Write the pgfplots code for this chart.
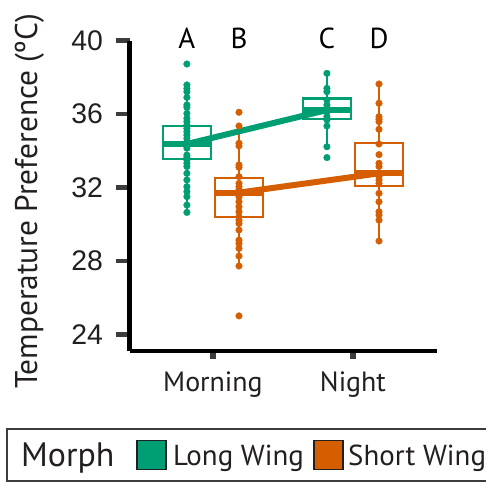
\documentclass[border=0pt]{standalone}
\usepackage{pgfplots}
\usepackage{pgfplotstable}
\pgfplotsset{compat=1.18}
\usepackage{fontspec}
\setmainfont{PT Sans}
\newfontfamily\numfont{Liberation Sans}
\definecolor{lw}{HTML}{009E73}
\definecolor{sw}{HTML}{D55E00}
\definecolor{txt}{HTML}{231F20}
\definecolor{tk}{HTML}{3C3C3C}

\pgfplotstableread{
y
38.73
37.59
37.40
37.22
36.91
36.50
36.37
36.04
35.77
35.59
35.40
35.22
35.04
34.86
34.68
34.50
34.32
34.14
33.77
33.65
33.50
33.32
33.14
32.77
32.41
32.04
31.77
31.50
31.04
30.64
}\ptsA
\pgfplotstableread{
y
36.10
35.35
34.41
34.26
33.23
33.10
32.59
32.22
32.04
31.86
31.68
31.50
31.22
30.95
30.68
30.41
30.22
30.04
29.68
29.13
28.95
28.68
28.26
27.72
25.00
}\ptsB
\pgfplotstableread{
y
38.22
37.40
37.22
36.77
36.50
36.32
36.13
35.86
35.68
35.35
34.22
33.63
}\ptsC
\pgfplotstableread{
y
37.64
36.59
35.86
35.72
35.59
35.17
34.37
33.79
33.32
33.14
32.77
32.59
32.41
32.22
31.68
31.22
30.68
30.50
30.22
29.08
}\ptsD

\begin{document}
\begin{tikzpicture}
\path[use as bounding box] (0,0) rectangle (486bp,482bp);
\begin{axis}[
  at={(129.5bp,130.5bp)}, anchor=south west,
  scale only axis, width=307.2bp, height=310.8bp,
  xmin=0.404, xmax=2.598, ymin=23.06, ymax=40,
  clip=false,
  axis x line*=bottom, axis y line*=left,
  axis line style={-, line width=4bp, black},
  xtick={1,2}, xticklabels={Morning, Night},
  ytick={24,28,32,36,40},
  tick align=outside,
  major tick length=13bp,
  ytick style={line width=4.5bp, tk},
  xtick style={line width=6bp, tk, /pgfplots/major tick length=7bp},
  /pgf/number format/assume math mode=true,
  yticklabel style={font=\numfont\fontsize{28.5}{28.5}\selectfont, text=txt, xshift=-10bp},
  xticklabel style={font=\fontsize{28}{28}\selectfont, text=txt, yshift=-4bp},
  ylabel={Temperature Preference (ºC)},
  ylabel style={at={(axis description cs:-0.301,0.483)}, anchor=base, font=\fontsize{31.5}{31.5}\selectfont, text=txt},
]
% boxes (outline)
\addplot[lw, line width=2.4bp] coordinates {(0.6425,33.54) (0.9855,33.54) (0.9855,35.35) (0.6425,35.35) (0.6425,33.54)} -- cycle;
\addplot[sw, line width=2.4bp] coordinates {(1.0145,30.38) (1.3575,30.38) (1.3575,32.52) (1.0145,32.52) (1.0145,30.38)} -- cycle;
\addplot[lw, line width=2.4bp] coordinates {(1.6425,35.72) (1.9855,35.72) (1.9855,36.86) (1.6425,36.86) (1.6425,35.72)} -- cycle;
\addplot[sw, line width=2.4bp] coordinates {(2.0145,32.08) (2.3575,32.08) (2.3575,34.41) (2.0145,34.41) (2.0145,32.08)} -- cycle;
% medians
\addplot[lw, line width=6bp] coordinates {(0.6425,34.37) (0.9855,34.37)};
\addplot[sw, line width=6bp] coordinates {(1.0145,31.72) (1.3575,31.72)};
\addplot[lw, line width=6bp] coordinates {(1.6425,36.22) (1.9855,36.22)};
\addplot[sw, line width=6bp] coordinates {(2.0145,32.77) (2.3575,32.77)};
% whiskers
\addplot[lw, line width=2.6bp] coordinates {(0.814,35.35) (0.814,37.59)};
\addplot[lw, line width=2.6bp] coordinates {(0.814,33.54) (0.814,30.64)};
\addplot[sw, line width=2.6bp] coordinates {(1.186,32.52) (1.186,35.35)};
\addplot[sw, line width=2.6bp] coordinates {(1.186,30.38) (1.186,27.72)};
\addplot[lw, line width=2.6bp] coordinates {(1.814,36.86) (1.814,38.22)};
\addplot[lw, line width=2.6bp] coordinates {(1.814,35.72) (1.814,34.22)};
\addplot[sw, line width=2.6bp] coordinates {(2.186,34.41) (2.186,37.64)};
\addplot[sw, line width=2.6bp] coordinates {(2.186,32.08) (2.186,29.08)};
% connecting lines
\addplot[lw, line width=6bp] coordinates {(0.814,34.37) (1.814,36.22)};
\addplot[sw, line width=6bp] coordinates {(1.186,31.72) (2.186,32.77)};
% points
\addplot[only marks, mark=*, mark size=3.3bp, lw] table[x expr=0.814, y=y] {\ptsA};
\addplot[only marks, mark=*, mark size=3.3bp, sw] table[x expr=1.186, y=y] {\ptsB};
\addplot[only marks, mark=*, mark size=3.3bp, lw] table[x expr=1.814, y=y] {\ptsC};
\addplot[only marks, mark=*, mark size=3.3bp, sw] table[x expr=2.186, y=y] {\ptsD};
% letters
\node[font=\fontsize{29}{29}\selectfont, text=black] at (axis cs:0.814,40.15) {A};
\node[font=\fontsize{29}{29}\selectfont, text=black] at (axis cs:1.186,40.15) {B};
\node[font=\fontsize{29}{29}\selectfont, text=black] at (axis cs:1.814,40.15) {C};
\node[font=\fontsize{29}{29}\selectfont, text=black] at (axis cs:2.186,40.15) {D};
\end{axis}
% legend
\draw[tk, line width=1.5bp] (7bp,1bp) rectangle (520bp,53bp);
\node[anchor=base west, inner sep=0pt, font=\fontsize{34}{34}\selectfont, text=txt] at (21bp,16bp) {Morph};
\draw[txt, line width=1.2bp, fill=lw] (137bp,12.7bp) rectangle (166bp,41.3bp);
\node[anchor=base west, inner sep=0pt, font=\fontsize{29}{29}\selectfont, text=txt] at (173bp,17bp) {Long Wing};
\draw[txt, line width=1.2bp, fill=sw] (314bp,12.7bp) rectangle (343bp,41.3bp);
\node[anchor=base west, inner sep=0pt, font=\fontsize{29}{29}\selectfont, text=txt] at (348bp,17bp) {Short Wing};
\end{tikzpicture}
\end{document}
